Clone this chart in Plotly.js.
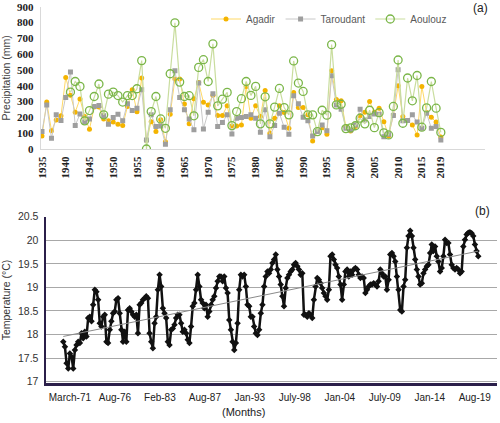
<!DOCTYPE html>
<html>
<head>
<meta charset="utf-8">
<script src="https://cdn.plot.ly/plotly-3.0.1.min.js"></script>
<style>html,body{margin:0;padding:0;background:#fff;}#chart{width:500px;height:423px;}</style>
</head>
<body>
<div id="chart"></div>
<script>
// ---- (a) annual precipitation (mm) ----
const years = [1935,1936,1937,1938,1939,1940,1941,1942,1943,1944,1945,1946,1947,1948,1949,1950,1951,1952,1953,1954,1955,1956,1957,1958,1959,1960,1961,1962,1963,1964,1965,1966,1967,1968,1969,1970,1971,1972,1973,1974,1975,1976,1977,1978,1979,1980,1981,1982,1983,1984,1985,1986,1987,1988,1989,1990,1991,1992,1993,1994,1995,1996,1997,1998,1999,2000,2001,2002,2003,2004,2005,2006,2007,2008,2009,2010,2011,2012,2013,2014,2015,2016,2017,2018,2019];
const agadir = [83,297,116,184,210,453,340,233,317,205,125,265,265,189,178,170,157,148,269,375,235,449,55,173,110,185,46,220,443,443,284,159,318,420,296,279,340,212,212,273,145,146,152,396,195,273,205,370,100,195,273,231,131,358,262,262,216,51,110,135,93,495,313,305,142,114,142,210,233,300,233,258,173,83,215,400,205,180,152,89,396,231,201,170,76];
const taroudant = [110,279,68,216,180,326,487,148,222,170,190,269,275,210,157,199,220,178,286,243,258,375,57,216,142,146,30,248,495,326,248,189,121,417,127,233,349,142,167,216,95,195,200,205,216,195,106,248,78,148,226,138,93,337,286,201,178,83,110,152,116,464,279,252,131,120,152,252,184,205,222,220,78,93,212,502,178,180,216,170,131,226,131,142,57];
const aoulouz = [null,null,null,null,null,null,360,427,396,178,243,332,411,216,347,360,338,297,338,338,381,559,0,237,332,190,131,476,798,423,332,337,210,516,565,427,665,273,315,358,148,237,318,427,339,396,159,330,159,265,383,262,216,557,417,364,216,216,110,245,214,660,279,283,129,133,147,195,159,245,135,230,102,89,269,563,163,449,305,465,138,260,427,258,105];
const precipTicks = [1935,1940,1945,1950,1955,1960,1965,1970,1975,1980,1985,1990,1995,2000,2005,2010,2015,2019];

// ---- (b) monthly temperature (°C), sampled along the record ----
const temperature = [
17.85,17.74,17.39,17.28,17.6,17.53,17.28,17.67,17.78,17.85,17.82,18.03,17.92,18.06,17.96,18.35,18.38,18.28,18.63,18.95,18.91,18.74,
18.24,18.17,18.38,18.42,17.85,17.82,18.1,18.28,18.45,18.49,18.74,18.77,18.45,18.1,17.85,18.06,17.85,18.52,18.56,18.49,18.42,18.38,18.42,18.03,18.63,18.67,18.74,18.77,18.81,18.77,18.03,17.85,17.71,18.24,18.38,18.95,
19.27,
19.02,18.56,18.45,18.35,17.85,17.78,18.1,18.13,18.21,18.35,18.42,18.42,18.24,18.06,18.1,18.03,17.89,17.82,18.17,18.6,18.67,18.95,19.27,19.02,18.74,18.67,18.56,18.63,18.38,18.49,18.63,18.74,18.81,18.99,19.13,19.23,19.23,19.13,19.23,18.99,18.88,18.31,18.1,17.85,17.67,17.82,18.24,18.95,19.27,19.23,19.27,19.02,18.63,18.6,18.38,
18.38,18.17,18.03,17.99,18.1,18.45,18.63,19.02,19.23,19.34,19.3,19.38,19.52,19.59,19.7,19.38,19.23,19.06,18.81,18.6,18.99,19.2,19.27,19.34,19.38,19.48,19.52,19.45,19.38,19.27,19.3,18.42,18.42,18.38,18.45,18.42,18.35,18.74,19.02,19.2,19.16,19.09,18.99,18.88,18.81,18.74,18.95,19.66,19.7,19.59,19.48,19.41,19.23,19.06,18.74,19.06,19.34,19.38,19.23,19.34,19.27,19.38,19.41,19.38,19.27,19.2,19.23,19.2,18.88,18.95,19.02,19.06,19.06,19.09,19.06,19.02,19.13,19.38,19.3,19.23,19.23,18.95,19.16,19.7,19.73,19.66,19.55,19.23,18.95,18.52,18.49,19.02,19.16,19.84,20.09,20.2,20.09,19.84,19.59,19.38,19.23,19.06,19.09,19.3,19.38,19.45,19.48,19.73,19.91,19.77,19.87,19.66,19.55,19.34,19.41,19.66,20.01,19.94,19.94,19.7,19.48,19.41,19.38,19.41,19.38,19.3,19.34,19.87,20.01,20.12,20.16,20.17,20.15,20.09,19.91,19.77,19.66
];
const trendEnds = [17.96, 19.77];
const monthLabels = ["March-71","Aug-76","Feb-83","Aug-87","Jan-93","July-98","Jan-04","July-09","Jan-14","Aug-19"];

const tIdx = temperature.map((_, i) => i);
const last = temperature.length - 1;
const tickStart = 4, tickStep = 27.1;
const monthTickVals = monthLabels.map((_, i) => tickStart + i * tickStep);

const traces = [
  {x: years, y: agadir, name: 'Agadir', type: 'scatter', mode: 'lines+markers',
   line: {color: '#FFD966', width: 1}, marker: {symbol: 'circle', size: 5, color: '#F4B400'},
   xaxis: 'x', yaxis: 'y'},
  {x: years, y: taroudant, name: 'Taroudant', type: 'scatter', mode: 'lines+markers',
   line: {color: '#C8C8C8', width: 1}, marker: {symbol: 'square', size: 5, color: '#9E9E9E'},
   xaxis: 'x', yaxis: 'y'},
  {x: years, y: aoulouz, name: 'Aoulouz', type: 'scatter', mode: 'lines+markers',
   line: {color: '#C9DD9E', width: 1.2}, marker: {symbol: 'circle-open', size: 8, color: '#7AB648', line: {width: 1.3}},
   xaxis: 'x', yaxis: 'y'},
  {x: tIdx, y: temperature, name: 'Temperature', type: 'scatter', mode: 'lines+markers', showlegend: false,
   line: {color: '#111', width: 2.5}, marker: {symbol: 'diamond', size: 5, color: '#111'},
   xaxis: 'x2', yaxis: 'y2'},
  {x: [0, last], y: trendEnds, name: 'Trend', type: 'scatter', mode: 'lines', showlegend: false,
   line: {color: '#8a8a8a', width: 1}, xaxis: 'x2', yaxis: 'y2'}
];

const W = 500, H = 423;
const layout = {
  width: W, height: H,
  margin: {l: 0, r: 0, t: 0, b: 0},
  paper_bgcolor: '#fff', plot_bgcolor: '#fff',
  showlegend: true,
  legend: {orientation: 'h', x: 0.412, y: 1 - 19/H, xanchor: 'left', yanchor: 'middle', itemwidth: 30,
           font: {family: 'Liberation Sans', size: 10, color: '#595959'}, bgcolor: 'rgba(0,0,0,0)'},
  xaxis: {domain: [40.7/W, 485/W], range: [1934.73, 2028.3], anchor: 'y',
          tickmode: 'array', tickvals: precipTicks, ticktext: precipTicks.map(String), tickangle: -90,
          tickfont: {family: 'Liberation Serif', size: 11, color: '#222', weight: 'bold'},
          showgrid: false, zeroline: false, showline: true, linecolor: '#d9d9d9', linewidth: 1,
          ticks: '', ticklabelstandoff: 2},
  yaxis: {domain: [1 - 149/H, 1 - 6.7/H], range: [0, 900], anchor: 'x', dtick: 100,
          tickfont: {family: 'Liberation Serif', size: 11, color: '#222', weight: 'bold'},
          showgrid: false, zeroline: false, showline: true, linecolor: '#d9d9d9', linewidth: 1,
          ticks: '', ticklabelstandoff: 4,
          title: {text: 'Precipitation (mm)', font: {family: 'Liberation Sans', size: 10.5, color: '#404040'}, standoff: 8}},
  xaxis2: {domain: [46/W, 497/W], range: [-10.4, 261.3], anchor: 'y2',
           tickmode: 'array', tickvals: monthTickVals, ticktext: monthLabels, tickangle: 0,
           tickfont: {family: 'Liberation Sans', size: 10, color: '#222'},
           showgrid: false, zeroline: false, showline: true, linecolor: '#2b1f4a', linewidth: 3,
           ticks: '', ticklabelstandoff: 3},
  yaxis2: {domain: [1 - 383.3/H, 1 - 216.7/H], range: [16.966, 20.5], anchor: 'x2',
           tickmode: 'array', tickvals: [17,17.5,18,18.5,19,19.5,20,20.5], ticktext: ['17','17.5','18','18.5','19','19.5','20','20.5'],
           tickfont: {family: 'Liberation Sans', size: 10.5, color: '#333'},
           showgrid: true, gridcolor: '#a8a8a8', gridwidth: 1, zeroline: false,
           showline: true, linecolor: '#2b1f4a', linewidth: 2.5, ticks: '', ticklabelstandoff: 3,
           title: {text: 'Temperature (°C)', font: {family: 'Liberation Sans', size: 10.5, color: '#333'}, standoff: 9}},
  annotations: [
    {text: '(a)', x: 480/W, y: 1 - 8/H, xref: 'paper', yref: 'paper', xanchor: 'center', yanchor: 'middle', showarrow: false,
     font: {family: 'Liberation Sans', size: 12, color: '#222'}},
    {text: '(b)', x: 482/W, y: 1 - 211/H, xref: 'paper', yref: 'paper', xanchor: 'center', yanchor: 'middle', showarrow: false,
     font: {family: 'Liberation Sans', size: 12, color: '#222'}},
    {text: '(Months)', x: 243/W, y: 1 - 412/H, xref: 'paper', yref: 'paper', xanchor: 'center', yanchor: 'middle', showarrow: false,
     font: {family: 'Liberation Sans', size: 11, color: '#222'}}
  ]
};

Plotly.newPlot('chart', traces, layout, {displayModeBar: false, staticPlot: true});
</script>
</body>
</html>
